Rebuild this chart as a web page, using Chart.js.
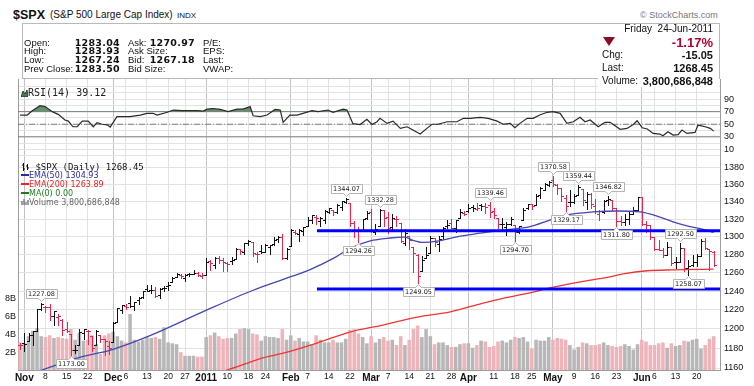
<!DOCTYPE html>
<html>
<head>
<meta charset="utf-8">
<script src="https://cdn.jsdelivr.net/npm/chart.js@4.4.0/dist/chart.umd.min.js"></script>
<style>
  html, body { margin: 0; padding: 0; background: #fff; }
  body { width: 754px; height: 386px; position: relative; overflow: hidden;
         font-family: "Liberation Sans", Arial, sans-serif; color: #111; }
  .t { position: absolute; white-space: nowrap; line-height: 10px; font-size: 9.5px; z-index: 6; }
  .v { font-family: "DejaVu Sans", Verdana, sans-serif; font-weight: bold; font-size: 9.5px; letter-spacing: 0.3px; }
  .r { text-align: right; }
  .b11 { font-weight: bold; font-size: 11px; line-height: 12px; }
  .leg { position: absolute; white-space: nowrap; line-height: 9px; font-family: "DejaVu Sans", Verdana, sans-serif; font-size: 8px; z-index: 5; }
  canvas { position: absolute; left: 0; }
</style>
</head>
<body>

<!-- title row -->
<div class="t" style="left:13px;top:8px;font-size:12.5px;line-height:14px;font-weight:bold;">$SPX</div>
<div class="t" style="left:50px;top:10px;font-size:10px;">(S&amp;P 500 Large Cap Index)</div>
<div class="t" style="left:177px;top:11px;font-size:8px;">INDX</div>
<div class="t" style="left:640px;top:10px;font-size:9px;color:#777;">&copy; StockCharts.com</div>

<!-- quote box -->
<div style="position:absolute;left:22px;top:23px;width:698px;height:56px;border:1px solid #b9b9b9;box-sizing:border-box;background:#fff;z-index:4;"></div>
<div style="position:absolute;left:598px;top:78px;width:121px;height:9px;background:#fff;z-index:4;"></div>

<div class="t" style="left:24px;top:38px;">Open:</div>
<div class="t" style="left:24px;top:46px;">High:</div>
<div class="t" style="left:24px;top:55px;">Low:</div>
<div class="t" style="left:24px;top:64px;">Prev Close:</div>
<div class="t v r" style="left:60px;width:60px;top:38px;">1283.04</div>
<div class="t v r" style="left:60px;width:60px;top:46px;">1283.93</div>
<div class="t v r" style="left:60px;width:60px;top:55px;">1267.24</div>
<div class="t v r" style="left:60px;width:60px;top:64px;">1283.50</div>

<div class="t" style="left:128px;top:38px;">Ask:</div>
<div class="t" style="left:128px;top:46px;">Ask Size:</div>
<div class="t" style="left:128px;top:55px;">Bid:</div>
<div class="t" style="left:128px;top:64px;">Bid Size:</div>
<div class="t v r" style="left:140px;width:55px;top:38px;">1270.97</div>
<div class="t v r" style="left:140px;width:55px;top:55px;">1267.18</div>

<div class="t" style="left:203px;top:38px;">P/E:</div>
<div class="t" style="left:203px;top:46px;">EPS:</div>
<div class="t" style="left:203px;top:55px;">Last:</div>
<div class="t" style="left:203px;top:64px;">VWAP:</div>

<div class="t r" style="left:600px;width:113px;top:24px;font-size:10px;">Friday&nbsp; 24-Jun-2011</div>
<div style="position:absolute;left:603px;top:37px;width:0;height:0;border-left:6px solid transparent;border-right:6px solid transparent;border-top:9px solid #8c0a26;z-index:6;"></div>
<div class="t r" style="left:620px;width:93px;top:36px;font-size:13px;line-height:14px;font-weight:bold;color:#b0002c;">-1.17%</div>
<div class="t" style="left:602px;top:50px;font-size:10px;">Chg:</div>
<div class="t r b11" style="left:640px;width:73px;top:49px;">-15.05</div>
<div class="t" style="left:602px;top:63px;font-size:10px;">Last:</div>
<div class="t r b11" style="left:640px;width:73px;top:62px;">1268.45</div>
<div class="t" style="left:602px;top:76px;font-size:10px;">Volume:</div>
<div class="t r b11" style="left:630px;width:83px;top:75px;">3,800,686,848</div>

<!-- panel legends -->
<div class="leg" style="left:21px;top:88px;font-family:'DejaVu Sans Mono',monospace;font-size:10px;line-height:10px;color:#222;">
  <svg width="7" height="8" style="vertical-align:-1px"><polygon points="0,8 2,2 4,5 6,1 7,8" fill="#4d7a55" stroke="#222" stroke-width="0.8"/></svg>RSI(14) 39.12</div>

<div class="leg" style="left:21px;top:163px;font-family:'DejaVu Sans Mono',monospace;font-size:9px;color:#111;">
  <svg width="9" height="8" style="vertical-align:-1px"><path d="M2.5 0V8M1 2H2.5M2.5 6H4M6.5 1V7M5 3H6.5M6.5 5H8" stroke="#111" stroke-width="1" fill="none"/></svg>&thinsp;$SPX (Daily) 1268.45</div>
<div class="leg" style="left:21px;top:171px;color:#2b2ba0;"><span style="display:inline-block;width:8px;height:2px;background:#2b2ba0;vertical-align:2px;"></span>EMA(50) 1304.93</div>
<div class="leg" style="left:21px;top:180px;color:#ee2222;"><span style="display:inline-block;width:8px;height:2px;background:#ee2222;vertical-align:2px;"></span>EMA(200) 1263.89</div>
<div class="leg" style="left:21px;top:189px;color:#1f7a1f;"><span style="display:inline-block;width:8px;height:2px;background:#1f7a1f;vertical-align:2px;"></span>MA(0) 0.00</div>
<div class="leg" style="left:21px;top:198px;color:#666;">
  <svg width="8" height="7" style="vertical-align:0"><path d="M1 7V3M3 7V1M5 7V4M7 7V2" stroke="#666" stroke-width="1.2"/></svg>Volume 3,800,686,848</div>

<canvas id="rsi" width="754" height="81" style="top:79px;"></canvas>
<canvas id="price" width="754" height="226" style="top:160px;"></canvas>

<script>
// ---------------- data ----------------
// trading days Oct 29 2010 .. Jun 24 2011, index 0..164
const priorClose = 1183.78;

const opens = [
  1183.9, 1185.7, 1187.9, 1193.8, 1198.3, 1221.2, 1223.2, 1223.6, 1213.1, 1213.0,
  1209.1, 1200.4, 1194.8, 1178.3, 1183.8, 1196.1, 1198.1, 1192.5, 1183.7, 1194.2,
  1189.1, 1182.7, 1186.6, 1206.8, 1219.9, 1223.9, 1227.3, 1223.9, 1230.1, 1233.9,
  1242.5, 1241.8, 1241.6, 1236.3, 1243.6, 1245.8, 1249.4, 1254.9, 1257.5, 1254.7,
  1259.1, 1259.1, 1259.4, 1256.8, 1257.6, 1272.9, 1268.8, 1276.3, 1274.4, 1270.8,
  1272.6, 1275.7, 1285.8, 1282.9, 1293.2, 1294.5, 1280.9, 1283.6, 1283.3, 1288.2,
  1291.9, 1297.5, 1299.6, 1276.5, 1289.1, 1305.9, 1302.8, 1307.0, 1311.9, 1318.8,
  1322.5, 1318.1, 1318.7, 1328.7, 1330.4, 1328.2, 1334.4, 1340.4, 1338.9, 1315.4,
  1307.1, 1307.3, 1321.6, 1328.6, 1305.9, 1312.4, 1330.7, 1322.7, 1311.1, 1319.9,
  1315.7, 1293.4, 1301.2, 1288.5, 1279.5, 1261.6, 1276.7, 1281.7, 1298.3, 1292.2,
  1300.6, 1311.8, 1315.5, 1309.4, 1321.9, 1327.4, 1329.5, 1333.6, 1332.0, 1335.9,
  1334.8, 1336.2, 1329.9, 1321.9, 1314.0, 1311.1, 1314.5, 1313.3, 1305.9, 1319.1,
  1333.2, 1337.1, 1336.8, 1348.4, 1353.9, 1360.1, 1365.2, 1359.8, 1355.9, 1344.2,
  1340.2, 1340.2, 1348.3, 1354.5, 1339.4, 1348.7, 1334.8, 1326.1, 1328.5, 1342.4,
  1342.0, 1333.1, 1317.7, 1316.4, 1320.6, 1325.7, 1331.1, 1345.2, 1314.6, 1312.9,
  1300.3, 1286.3, 1284.6, 1279.6, 1288.6, 1271.3, 1272.2, 1287.9, 1265.5, 1268.6,
  1271.5, 1278.4, 1295.5, 1286.6, 1283.04
];
const highs = [
  1185.6, 1195.8, 1196.1, 1198.3, 1221.3, 1227.08, 1224.6, 1226.8, 1218.8, 1215.5,
  1210.5, 1207.4, 1194.8, 1183.6, 1200.3, 1199.9, 1198.9, 1192.5, 1198.6, 1194.2,
  1189.1, 1187.4, 1207.6, 1221.9, 1225.6, 1225.8, 1235.1, 1228.9, 1233.7, 1240.4,
  1246.7, 1246.6, 1244.3, 1243.8, 1245.8, 1250.2, 1255.8, 1259.4, 1258.6, 1258.4,
  1259.9, 1262.9, 1261.0, 1259.3, 1276.2, 1274.1, 1277.6, 1278.2, 1276.8, 1271.5,
  1277.6, 1286.9, 1286.7, 1293.2, 1296.1, 1294.6, 1283.4, 1291.2, 1291.9, 1291.3,
  1299.7, 1301.3, 1302.7, 1287.2, 1308.9, 1307.6, 1308.6, 1311.0, 1322.9, 1324.9,
  1324.5, 1322.8, 1330.8, 1332.9, 1330.4, 1337.6, 1341.5, 1344.07, 1338.9, 1317.9,
  1310.9, 1320.6, 1329.4, 1332.1, 1314.2, 1332.28, 1331.1, 1327.7, 1325.7, 1323.2,
  1315.7, 1308.4, 1301.2, 1288.5, 1280.9, 1278.9, 1288.9, 1300.6, 1299.0, 1300.5,
  1311.3, 1319.2, 1319.7, 1319.5, 1331.7, 1329.8, 1337.9, 1336.7, 1338.2, 1338.0,
  1338.8, 1339.46, 1333.2, 1321.9, 1321.4, 1316.8, 1322.9, 1313.3, 1312.7, 1332.7,
  1337.5, 1337.6, 1349.6, 1357.5, 1361.7, 1364.6, 1370.58, 1360.8, 1355.9, 1348.0,
  1354.4, 1349.4, 1359.44, 1354.5, 1351.1, 1350.5, 1343.3, 1330.4, 1341.8, 1346.82,
  1342.0, 1333.1, 1323.7, 1325.9, 1328.5, 1334.6, 1345.2, 1345.2, 1318.0, 1312.9,
  1300.3, 1296.2, 1287.0, 1294.5, 1288.6, 1277.0, 1292.50, 1287.9, 1274.1, 1279.8,
  1280.4, 1297.6, 1298.6, 1286.6, 1283.93
];
const lows = [
  1179.8, 1177.7, 1187.9, 1183.6, 1198.3, 1220.3, 1217.8, 1208.9, 1204.3, 1204.5,
  1194.1, 1197.2, 1173.00, 1175.0, 1183.8, 1189.4, 1184.6, 1176.9, 1183.7, 1186.9,
  1173.6, 1174.1, 1186.6, 1206.8, 1216.8, 1220.7, 1223.2, 1219.5, 1226.3, 1232.6,
  1240.3, 1238.2, 1234.0, 1232.8, 1239.9, 1241.5, 1249.4, 1254.9, 1254.0, 1251.5,
  1256.2, 1259.1, 1256.1, 1254.0, 1257.6, 1262.7, 1265.4, 1270.4, 1261.7, 1262.2,
  1269.6, 1275.7, 1280.5, 1281.1, 1290.2, 1278.9, 1271.3, 1282.1, 1282.5, 1281.1,
  1291.0, 1294.4, 1275.1, 1274.7, 1289.1, 1302.6, 1294.8, 1301.7, 1311.9, 1316.0,
  1314.9, 1311.7, 1316.1, 1326.9, 1324.6, 1326.8, 1331.0, 1338.1, 1312.3, 1299.6,
  1294.26, 1307.3, 1320.6, 1305.4, 1302.6, 1312.4, 1312.6, 1303.9, 1306.9, 1312.3,
  1294.2, 1291.0, 1286.4, 1261.1, 1249.05, 1261.6, 1276.2, 1281.7, 1289.9, 1284.1,
  1297.7, 1310.2, 1310.2, 1305.3, 1321.9, 1325.0, 1328.3, 1329.1, 1330.0, 1330.9,
  1326.6, 1322.9, 1321.1, 1309.5, 1309.2, 1302.4, 1313.7, 1294.70, 1303.9, 1319.1,
  1332.0, 1331.7, 1336.8, 1344.3, 1353.6, 1358.7, 1358.6, 1349.5, 1341.5, 1329.17,
  1335.6, 1338.6, 1348.3, 1336.4, 1332.0, 1333.4, 1327.3, 1318.5, 1326.6, 1336.4,
  1330.7, 1311.80, 1313.9, 1313.2, 1314.8, 1325.7, 1331.1, 1313.7, 1305.6, 1297.9,
  1284.9, 1284.7, 1277.4, 1279.6, 1268.3, 1265.6, 1272.2, 1261.9, 1258.07, 1267.4,
  1267.6, 1278.4, 1286.8, 1262.9, 1267.24
];
const closes = [
  1183.26, 1184.38, 1193.57, 1197.96, 1221.06, 1225.85, 1223.25, 1213.40, 1218.71, 1213.54,
  1199.21, 1197.75, 1178.34, 1178.59, 1196.69, 1199.73, 1197.84, 1180.73, 1198.35, 1189.40,
  1187.76, 1180.55, 1206.07, 1221.53, 1224.71, 1223.12, 1223.75, 1228.28, 1233.00, 1240.40,
  1240.46, 1241.59, 1235.23, 1242.87, 1243.91, 1247.08, 1254.60, 1258.84, 1256.77, 1257.54,
  1258.51, 1259.78, 1257.88, 1257.64, 1271.87, 1270.20, 1276.56, 1273.85, 1271.50, 1269.75,
  1274.48, 1285.96, 1283.76, 1293.24, 1295.02, 1281.92, 1280.26, 1283.35, 1290.84, 1291.18,
  1296.63, 1299.54, 1276.34, 1286.12, 1307.59, 1304.03, 1307.10, 1310.87, 1319.05, 1324.57,
  1320.88, 1321.87, 1329.15, 1332.32, 1328.01, 1336.32, 1340.43, 1343.01, 1315.44, 1307.40,
  1306.10, 1319.88, 1327.22, 1306.33, 1308.44, 1330.97, 1321.15, 1310.13, 1321.82, 1320.02,
  1295.11, 1304.28, 1296.39, 1281.87, 1256.88, 1273.72, 1279.21, 1298.38, 1293.77, 1297.54,
  1309.66, 1313.80, 1310.19, 1319.44, 1328.26, 1325.83, 1332.41, 1332.87, 1332.63, 1335.54,
  1333.51, 1328.17, 1324.46, 1314.16, 1314.41, 1314.52, 1319.68, 1305.14, 1312.62, 1330.36,
  1337.38, 1335.25, 1347.24, 1355.66, 1360.48, 1363.61, 1361.22, 1356.62, 1347.32, 1335.10,
  1340.20, 1346.29, 1357.16, 1342.08, 1348.65, 1337.77, 1329.47, 1328.98, 1340.68, 1343.60,
  1333.27, 1317.37, 1316.28, 1320.47, 1325.69, 1331.10, 1345.20, 1314.55, 1312.94, 1300.16,
  1286.17, 1284.94, 1279.56, 1289.00, 1270.98, 1271.83, 1287.87, 1265.42, 1267.64, 1271.50,
  1278.36, 1295.52, 1287.14, 1283.50, 1268.45
];
// volume in billions of shares
const volumes = [
  3.1, 3.0, 3.8, 4.4, 4.7, 3.8, 3.7, 3.9, 3.6, 3.7,
  3.6, 3.5, 4.6, 3.4, 4.2, 3.3, 3.4, 3.9, 2.9, 1.8,
  3.9, 4.1, 4.3, 3.8, 3.3, 3.1, 6.3, 3.4, 3.2, 3.4,
  3.7, 3.6, 3.7, 3.5, 4.8, 3.1, 3.0, 2.9, 2.0, 1.6,
  1.6, 1.6, 1.5, 1.5, 3.7, 3.9, 4.2, 3.8, 3.5, 3.6,
  3.6, 4.1, 4.6, 4.7, 4.6, 4.1, 4.0, 3.3, 3.8, 3.7,
  3.7, 3.6, 4.6, 3.4, 3.9, 3.3, 3.6, 3.2, 3.2, 2.9,
  3.9, 3.4, 3.1, 3.1, 3.4, 3.1, 3.1, 3.5, 4.5, 4.6,
  4.1, 3.7, 3.0, 3.8, 3.1, 3.5, 3.7, 3.3, 3.4, 2.8,
  3.8, 2.8, 3.4, 4.6, 5.0, 3.7, 4.6, 3.8, 2.9, 3.1,
  3.1, 2.8, 2.6, 2.6, 2.9, 3.0, 3.0, 2.5, 2.8, 3.3,
  3.2, 2.6, 2.7, 3.2, 3.3, 3.1, 3.4, 3.7, 3.6, 3.7,
  3.2, 2.4, 3.4, 3.3, 3.3, 3.7, 3.4, 3.6, 3.5, 3.4,
  2.8, 2.3, 2.6, 3.1, 3.0, 2.8, 2.8, 2.9, 3.1, 2.8,
  2.7, 2.6, 2.7, 2.9, 2.7, 2.3, 2.9, 3.4, 3.2, 2.8,
  2.8, 3.0, 3.1, 2.5, 3.0, 2.7, 2.8, 3.3, 3.2, 3.4,
  3.5, 2.4, 2.8, 3.5, 3.8
];

const ema50Idx = [0, 5.2, 13.5, 22, 30.7, 44.2, 55.1, 62.4, 68.3, 74.5, 78, 82.8, 87.5, 91, 92.9, 95.3,
  98.6, 103.3, 108.8, 114.2, 120.6, 125.3, 129.3, 135.5, 141.2, 146.6, 150.6, 154.4, 158.4, 161.5, 164];
const ema50Val = [1150, 1158, 1170, 1179, 1193, 1220, 1241, 1253, 1263, 1277, 1287, 1295.5, 1298.6, 1299.5, 1296, 1293.6,
  1295, 1300, 1304, 1307.6, 1311.5, 1319, 1324.8, 1328.3, 1329.4, 1328.3, 1323.6, 1317, 1311.5, 1308.5, 1304.93];

const ema200Idx = [40, 48.9, 54.4, 56.8, 62.2, 70.2, 78, 85.8, 93.9, 101.7, 109.5, 114.2, 121.3, 125.3,
  133.1, 138.8, 142.6, 148.3, 154.4, 164];
const ema200Val = [1147, 1158, 1166, 1169.5, 1175, 1185.4, 1196.8, 1204, 1212.5, 1218, 1227.3, 1232.3, 1239, 1243.5,
  1250.5, 1255, 1258.8, 1262.2, 1263.2, 1263.89];

const rsiIdx = [0, 1.7, 2.8, 4.7, 5.9, 7.6, 9, 10.6, 11.4, 12.5, 13.5, 14.7, 16.1, 17.3, 18.2, 19.4, 20.6, 21.3,
  22.9, 26, 28.4, 30, 31.4, 32.4, 34.8, 36.2, 38.3, 40.2, 41.9, 43.3, 44.2, 45.6, 47.3, 49.2, 51.3, 52.7,
  54.4, 55.1, 56.8, 58.4, 60.3, 61.5, 62.2, 63.8, 65.5, 66.9, 69, 70.5, 72.8, 74, 76.4, 77.3, 78.7, 80.4,
  82, 83.2, 84.4, 85.1, 86.8, 88.2, 89.9, 91.5, 92.9, 94.6, 96.2, 97.4, 98.8, 101, 103.3, 104.8, 106.4,
  108.8, 110.7, 112.8, 114.2, 115.9, 117, 118.2, 119.9, 121.3, 122.9, 124.6, 126, 127.7, 129.3, 130.8,
  132.4, 133.6, 134.8, 136.7, 138.3, 139.5, 141.9, 143.5, 145, 145.9, 147.1, 148.3, 149.7, 151.3, 152,
  153.2, 154.4, 155.6, 156.5, 157.7, 159.6, 160.3, 162, 163.2, 164];
const rsiVal = [64.6, 64.6, 71, 79.4, 78, 70, 65.7, 56.7, 55, 46, 46, 55, 55, 46, 52.5, 50, 49, 45.5,
  62, 62, 64.6, 67.3, 67.5, 64.6, 69, 72.6, 71.5, 71.5, 71.5, 71, 74, 75, 73.5, 70, 74, 74,
  78, 63.5, 62, 64.6, 73.5, 72.6, 53, 64.6, 64.6, 67.3, 71.5, 70, 72.6, 69, 74, 72.6, 51, 49.6,
  58, 49.6, 54, 59.4, 51.4, 55, 43.4, 46, 40.8, 34.4, 43.4, 50, 50, 54, 54, 59.4, 59.4,
  61, 59.4, 55, 50, 51.4, 44.5, 51.4, 59.4, 59.4, 64.6, 69, 70, 67.3, 51.4, 54,
  61, 54, 56.7, 46, 53, 53, 41.9, 43.4, 49.6, 55.6, 44.5, 42.4, 35.5, 34.4, 31.7,
  38.1, 32.8, 33.5, 40.8, 35.5, 37, 48.7, 46, 43.4, 39.12];
const rsiLevels = [70, 50, 30];

// hand-drawn support lines
const supportLevels = [1306.9, 1242.3];
const supportFrom = 70.2;

// labelled highs / lows
const noteIdx = [5, 12, 77, 80, 85, 94, 111, 117, 126, 129, 132, 139, 141, 156, 158];
const noteVal = [1227.08, 1173.00, 1344.07, 1294.26, 1332.28, 1249.05, 1339.46, 1294.70, 1370.58,
  1329.17, 1359.44, 1346.82, 1311.80, 1292.50, 1258.07];
const noteSide = ['hi', 'lo', 'hi', 'lo', 'hi', 'lo', 'hi', 'lo', 'hi', 'lo', 'hi', 'hi', 'lo', 'hi', 'lo'];

// axes
const xTickIdx = [1, 6, 11, 16, 22, 25, 30, 35, 39, 44, 49, 54, 58, 64, 68, 73, 78, 83, 87, 92, 97, 102,
  106, 112, 117, 121, 126, 131, 136, 141, 147, 150, 155, 160];
const xTickLabels = ['Nov', '8', '15', '22', 'Dec', '6', '13', '20', '27', '2011', '10', '18', '24', 'Feb', '7',
  '14', '22', 'Mar', '7', '14', '21', '28', 'Apr', '11', '18', '25', 'May', '9', '16', '23', 'Jun', '6', '13', '20'];
const xTickMonth = xTickLabels.map(s => /^[A-Z]|^2011$/.test(s));
const priceTicks = [1160, 1180, 1200, 1220, 1240, 1260, 1280, 1300, 1320, 1340, 1360, 1380];
const volTicks = [2, 4, 6, 8];
const rsiGrid = [0, 10, 20, 30, 40, 50, 60, 70, 80, 90, 100, 110];
const rsiLabels = [10, 30, 50, 70, 90];

// ---------------- styling ----------------
const UP = '#111111', DOWN = '#e3274f';
const VOL_UP = '#b7b7b7', VOL_DOWN = '#efb4ba';
const GRID = '#e2e2e2', GRID_MONTH = '#c2c2c2', AXIS = '#9c9c9c';
const FONT = 'Liberation Sans, Arial, sans-serif';
const X_MIN = -0.5, X_MAX = 165.5;

const isUp = i => closes[i] >= (i ? closes[i - 1] : priorClose);

function xScale(showLabels) {
  return {
    type: 'linear', min: X_MIN, max: X_MAX, offset: false,
    afterBuildTicks: s => { s.ticks = xTickIdx.map(v => ({ value: v })); },
    afterFit: s => { s.height = showLabels ? 16 : 0; s.paddingLeft = 0; s.paddingRight = 0; },
    grid: { offset: false, drawTicks: false, color: c => xTickMonth[c.index] ? GRID_MONTH : GRID },
    border: { color: AXIS },
    ticks: {
      display: showLabels, autoSkip: false, maxRotation: 0, padding: 2, color: '#111',
      font: c => ({ family: FONT, size: xTickMonth[c.index] ? 10 : 8.5, weight: xTickMonth[c.index] ? 'bold' : 'normal' }),
      callback: (v, i) => xTickLabels[i]
    }
  };
}

// OHLC bars, drawn right after the volume bars so the lines sit on top
const ohlcPlugin = {
  id: 'ohlc',
  afterDatasetDraw(chart, args) {
    if (args.index !== 0) return;
    const { ctx, chartArea: a } = chart;
    const xs = chart.scales.x, ys = chart.scales.y;
    ctx.save();
    ctx.beginPath();
    ctx.rect(a.left, a.top, a.right - a.left, a.bottom - a.top);
    ctx.clip();
    ctx.lineWidth = 1;
    for (let i = 0; i < closes.length; i++) {
      const px = Math.round(xs.getPixelForValue(i)) + 0.5;
      const yh = Math.round(ys.getPixelForValue(highs[i]));
      const yl = Math.round(ys.getPixelForValue(lows[i])) + 1;
      const yo = Math.round(ys.getPixelForValue(opens[i])) + 0.5;
      const yc = Math.round(ys.getPixelForValue(closes[i])) + 0.5;
      ctx.strokeStyle = isUp(i) ? UP : DOWN;
      ctx.beginPath();
      ctx.moveTo(px, yh); ctx.lineTo(px, yl);
      ctx.moveTo(px - 2.5, yo); ctx.lineTo(px, yo);
      ctx.moveTo(px, yc); ctx.lineTo(px + 2.5, yc);
      ctx.stroke();
    }
    ctx.restore();
  }
};

// small boxed value labels at the swing highs and lows
const notePlugin = {
  id: 'notes',
  afterDatasetsDraw(chart) {
    const { ctx } = chart;
    const xs = chart.scales.x, ys = chart.scales.y;
    ctx.save();
    ctx.font = '6.5px "DejaVu Sans", Verdana, sans-serif';
    ctx.textAlign = 'center';
    ctx.textBaseline = 'middle';
    noteIdx.forEach((idx, k) => {
      const txt = noteVal[k].toFixed(2);
      const cx = Math.round(xs.getPixelForValue(idx)) + 0.5;
      const py = ys.getPixelForValue(noteVal[k]);
      const w = Math.ceil(ctx.measureText(txt).width) + 4, h = 9;
      const l = Math.round(cx - w / 2) + 0.5, r = l + w;
      let t, b;
      ctx.beginPath();
      if (noteSide[k] === 'hi') {
        b = Math.round(py) - 4.5; t = b - h;
        ctx.moveTo(l, t); ctx.lineTo(r, t); ctx.lineTo(r, b);
        ctx.lineTo(cx + 3, b); ctx.lineTo(cx, b + 3); ctx.lineTo(cx - 3, b);
        ctx.lineTo(l, b); ctx.closePath();
      } else {
        t = Math.round(py) + 4.5; b = t + h;
        ctx.moveTo(l, t); ctx.lineTo(cx - 3, t); ctx.lineTo(cx, t - 3); ctx.lineTo(cx + 3, t);
        ctx.lineTo(r, t); ctx.lineTo(r, b); ctx.lineTo(l, b); ctx.closePath();
      }
      ctx.fillStyle = '#ffffff';
      ctx.fill();
      ctx.strokeStyle = '#b4b4b4';
      ctx.lineWidth = 1;
      ctx.stroke();
      ctx.fillStyle = '#222';
      ctx.fillText(txt, cx, (t + b) / 2 + 0.5);
    });
    ctx.restore();
  }
};

const common = {
  responsive: false, devicePixelRatio: 1, animation: false, events: [],
  layout: { padding: 0 },
  plugins: { legend: { display: false }, tooltip: { enabled: false } }
};

// ---------------- RSI panel ----------------
new Chart(document.getElementById('rsi'), {
  type: 'line',
  data: {
    datasets: [
      {
        data: rsiIdx.map((x, i) => ({ x, y: rsiVal[i] })),
        borderColor: '#2a2a2a', borderWidth: 1.2, pointRadius: 0, tension: 0,
        fill: { target: { value: 70 }, above: 'rgba(84,132,94,0.9)', below: 'rgba(0,0,0,0)' },
        order: 1
      },
      ...rsiLevels.map(lv => ({
        data: [{ x: X_MIN, y: lv }, { x: X_MAX, y: lv }],
        borderColor: '#7e7e7e', borderWidth: 1, pointRadius: 0, fill: false,
        borderDash: lv === 50 ? [6, 2, 1, 2] : [], order: 2
      }))
    ]
  },
  options: {
    ...common,
    scales: {
      x: xScale(false),
      y: {
        type: 'linear', position: 'right', min: -6.8, max: 121.9,
        afterBuildTicks: s => { s.ticks = rsiGrid.map(v => ({ value: v })); },
        afterFit: s => { s.width = 34; s.paddingTop = 0; s.paddingBottom = 0; },
        grid: { color: GRID, drawTicks: false },
        border: { color: AXIS },
        ticks: { padding: 4, color: '#111', font: { family: FONT, size: 9 }, autoSkip: false,
                 callback: v => rsiLabels.includes(v) ? String(v) : '' }
      },
      yl: {
        type: 'linear', position: 'left', min: 0, max: 1,
        afterFit: s => { s.width = 18; },
        grid: { display: false, drawTicks: false },
        border: { color: AXIS },
        ticks: { display: false }
      }
    }
  }
});

// ---------------- price panel ----------------
new Chart(document.getElementById('price'), {
  type: 'bar',
  data: {
    datasets: [
      {
        type: 'bar', yAxisID: 'vol',
        data: volumes.map((v, i) => ({ x: i, y: v })),
        backgroundColor: volumes.map((v, i) => isUp(i) ? VOL_UP : VOL_DOWN),
        barPercentage: 1, categoryPercentage: 0.84, grouped: false, order: 9
      },
      {
        type: 'line', yAxisID: 'y',
        data: ema200Idx.map((x, i) => ({ x, y: ema200Val[i] })),
        borderColor: '#f03434', borderWidth: 1.3, pointRadius: 0, cubicInterpolationMode: 'monotone', order: 4
      },
      {
        type: 'line', yAxisID: 'y',
        data: ema50Idx.map((x, i) => ({ x, y: ema50Val[i] })),
        borderColor: '#4646b2', borderWidth: 1.3, pointRadius: 0, cubicInterpolationMode: 'monotone', order: 3
      },
      ...supportLevels.map(lv => ({
        type: 'line', yAxisID: 'y',
        data: [{ x: supportFrom, y: lv }, { x: X_MAX, y: lv }],
        borderColor: '#0000ff', borderWidth: 3, pointRadius: 0, order: 2
      }))
    ]
  },
  options: {
    ...common,
    scales: {
      x: xScale(true),
      y: {
        type: 'logarithmic', position: 'right', min: 1158, max: 1389.6,
        afterBuildTicks: s => { s.ticks = priceTicks.map(v => ({ value: v })); },
        afterFit: s => { s.width = 34; s.paddingTop = 0; s.paddingBottom = 0; },
        grid: { color: GRID, drawTicks: false },
        border: { color: AXIS },
        ticks: { padding: 4, color: '#111', font: { family: FONT, size: 9 }, autoSkip: false, callback: v => String(v) }
      },
      vol: {
        type: 'linear', position: 'left', min: 0, max: 23.6,
        afterBuildTicks: s => { s.ticks = volTicks.map(v => ({ value: v })); },
        afterFit: s => { s.width = 18; s.paddingTop = 0; s.paddingBottom = 0; },
        grid: { display: false, drawTicks: false },
        border: { color: AXIS },
        ticks: { padding: 2, color: '#111', font: { family: FONT, size: 9 }, autoSkip: false, callback: v => v + 'B' }
      }
    }
  },
  plugins: [ohlcPlugin, notePlugin]
});
</script>
</body>
</html>
